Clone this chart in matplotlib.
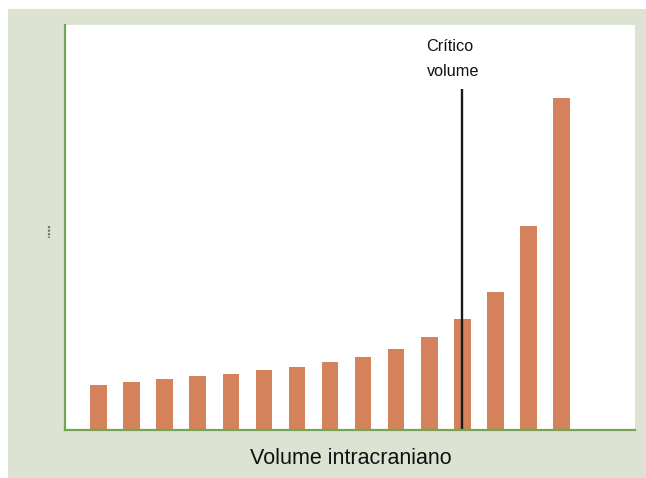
import matplotlib
matplotlib.use("Agg")
import matplotlib.pyplot as plt
from matplotlib.patches import Rectangle
from matplotlib.lines import Line2D

plt.rcParams['font.family'] = ['Liberation Sans', 'DejaVu Sans']

# Pressure rising with intracranial volume (arbitrary units)
steps = list(range(15))
pressure = [45, 48, 51, 53.5, 56, 60, 63, 67.5, 73, 81, 92.5, 111, 138, 204, 332]
critical_step = 11
critical_line_top = 341
x_label = "Volume intracraniano"
critical_label = ["Crítico", "volume"]

bar_color = "#d4825c"
axis_green = "#74a557"
panel_bg = "#dde3d3"

fig = plt.figure(figsize=(6.46, 4.78), dpi=100, facecolor="white")

# framed light green-grey panel, behind everything else
fig.patches.append(Rectangle((8 / 646, 0), 1 - 8 / 646, 1 - 9 / 478,
                             transform=fig.transFigure, facecolor=panel_bg,
                             edgecolor="none", zorder=-10))

ax = fig.add_axes([65 / 646, (478 - 429.5) / 478, 570 / 646, 404.5 / 478])
ax.set_zorder(1)
ax.set_facecolor("white")
ax.bar(steps, pressure, width=0.5, color=bar_color, zorder=2)
ax.vlines(critical_step, 0, critical_line_top, color="#1a1a1a", linewidth=1.7, zorder=3)

ax.set_xlim(-1.013, 16.22)
ax.set_ylim(0, 404.5)
for side in ("top", "right"):
    ax.spines[side].set_visible(False)
for side in ("left", "bottom"):
    ax.spines[side].set_color(axis_green)
    ax.spines[side].set_linewidth(1.6)
    ax.spines[side].set_zorder(4)
ax.set_xticks([])
ax.set_yticks([])

# label over the critical line
ax.text(critical_step - 0.39, 383, critical_label[0], ha="center", va="center",
        fontsize=11.7, color="#111111")
ax.text(critical_step - 0.27, 358, critical_label[1], ha="center", va="center",
        fontsize=11.7, color="#111111")

fig.text(351 / 646, 1 - 459 / 478, x_label, ha="center", va="center",
         fontsize=15.5, color="#111111")

# faint marker on the vertical axis side
fig.lines.append(Line2D([49 / 646, 49 / 646], [1 - 226 / 478, 1 - 238 / 478],
                        transform=fig.transFigure, color="#777777",
                        linewidth=1.6, linestyle=(0, (1, 0.6))))

fig.savefig("out.png", dpi=100, facecolor=fig.get_facecolor())
